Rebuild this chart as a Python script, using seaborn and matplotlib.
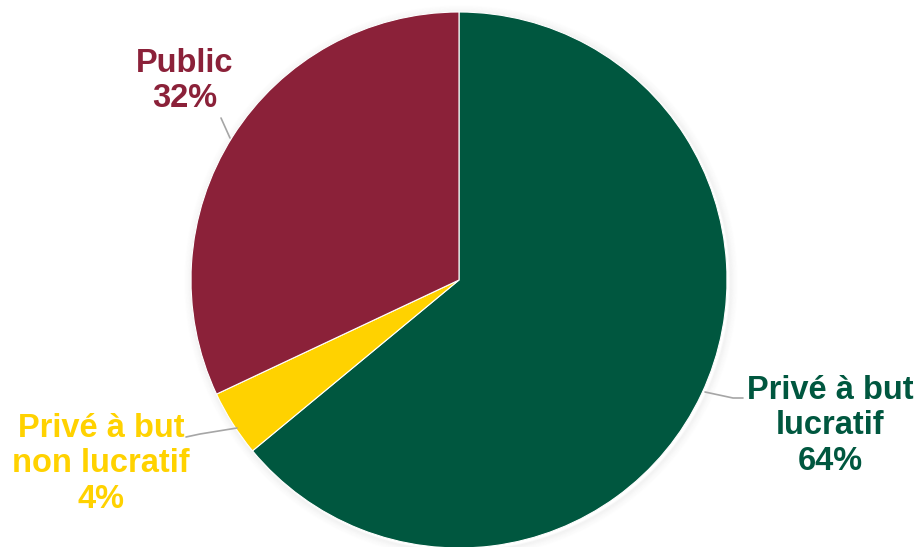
import matplotlib
matplotlib.use("Agg")
import matplotlib.pyplot as plt
import seaborn as sns
from matplotlib.patches import Circle

sns.set_theme(style="white")
plt.rcParams['font.family'] = ['Liberation Sans', 'DejaVu Sans']

categories = ["Privé à but\nlucratif", "Privé à but\nnon lucratif", "Public"]
shares = [64, 4, 32]
colors = ["#00573F", "#FFD200", "#8B2139"]

W, H = 917, 547
fig = plt.figure(figsize=(W / 100, H / 100), dpi=100)
ax = fig.add_axes([0, 0, 1, 1])

cx, cy, r = 459, H - 280, 268

# soft drop shadow beneath the pie
for i in range(8):
    ax.add_patch(Circle((cx + 2, cy - 2), r + 1 + i, facecolor="none",
                        edgecolor="black", alpha=0.025 * (8 - i) / 8,
                        linewidth=1.5, zorder=1))

wedges, _ = ax.pie(shares, colors=colors, startangle=90, counterclock=False,
                   center=(cx, cy), radius=r, frame=True,
                   wedgeprops=dict(edgecolor="white", linewidth=0.8))
for w in wedges:
    w.set_zorder(2)
ax.set_xlim(0, W)
ax.set_ylim(0, H)
ax.set_aspect("equal")
ax.axis("off")

# labels with leader lines
label_pos = [(830, H - 426), (101, H - 464), (185, H - 81)]
leaders = [
    [(705, 392), (733, 398), (743, 398)],
    [(237, 428), (200, 434), (186, 437)],
    [(230, 138), (221, 118)],
]
for cat, val, col, (lx, ly), pts in zip(categories, shares, colors, label_pos, leaders):
    ax.text(lx, ly, f"{cat}\n{val}%", color=col, fontsize=23.5, fontweight="bold",
            ha="center", va="center", linespacing=1.2, zorder=3)
    xs = [p[0] for p in pts]
    ys = [H - p[1] for p in pts]
    ax.plot(xs, ys, color="#A6A6A6", linewidth=1.2, zorder=3)

fig.savefig("out.png", dpi=100)
